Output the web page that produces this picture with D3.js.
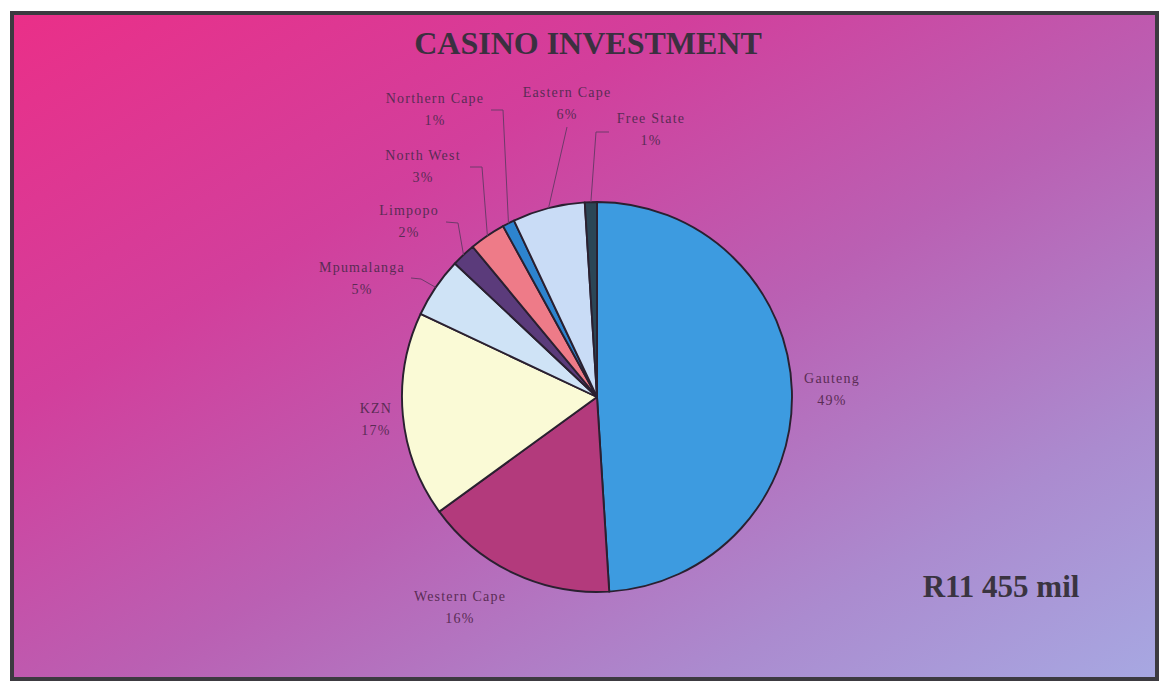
<!DOCTYPE html>
<html>
<head>
<meta charset="utf-8">
<script src="https://cdn.jsdelivr.net/npm/d3@7"></script>
<style>
  html, body { margin: 0; padding: 0; background: #ffffff; }
  svg { display: block; }
</style>
</head>
<body>
<svg id="chart" width="1162" height="683"></svg>
<script>
// Provincial shares of casino investment (percent), clockwise from 12 o'clock
const provinces = ["Gauteng", "Western Cape", "KZN", "Mpumalanga", "Limpopo",
                   "North West", "Northern Cape", "Eastern Cape", "Free State"];
const shares = [49, 16, 17, 5, 2, 3, 1, 6, 1];
const sliceColors = ["#3d9be0", "#b33a7c", "#fafad6", "#cfe3f6", "#5b3b7b",
                     "#ee7b88", "#2d84cf", "#c9dcf6", "#2b4656"];
const titleText = "CASINO INVESTMENT";
const totalText = "R11 455 mil";

// Label placement (first-line baseline, centre x) and leader routing per province
const labelLayout = {
  "Gauteng":       { x: 832, y: 383 },
  "Western Cape":  { x: 460, y: 601 },
  "KZN":           { x: 376, y: 413 },
  "Mpumalanga":    { x: 362, y: 272, from: [411, 278], elbow: [421, 279] },
  "Limpopo":       { x: 409, y: 215, from: [446, 222], elbow: [458, 223] },
  "North West":    { x: 423, y: 160, from: [470, 167], elbow: [482, 167] },
  "Northern Cape": { x: 435, y: 103, from: [491, 110], elbow: [503, 110] },
  "Eastern Cape":  { x: 567, y: 97,  from: [567, 127] },
  "Free State":    { x: 651, y: 123, from: [609, 132], elbow: [596, 132] }
};

const W = 1162, H = 683;
const svg = d3.select("#chart");
const defs = svg.append("defs");

const bg = defs.append("linearGradient")
  .attr("id", "bgGrad")
  .attr("x1", 0).attr("y1", 0).attr("x2", 1).attr("y2", 1);
[[0, "#ea2f88"], [0.3, "#d23f9c"], [0.55, "#ba60b3"], [0.8, "#ab8bcf"], [1, "#a7a8e2"]]
  .forEach(([o, c]) => bg.append("stop").attr("offset", o).attr("stop-color", c));

// Framed panel
svg.append("rect")
  .attr("x", 12).attr("y", 13).attr("width", 1145).attr("height", 666)
  .attr("fill", "url(#bgGrad)")
  .attr("stroke", "#3c3a40").attr("stroke-width", 4);

// Title
svg.append("text")
  .attr("x", 588).attr("y", 54)
  .attr("text-anchor", "middle")
  .attr("font-family", "'Liberation Serif', 'Times New Roman', serif")
  .attr("font-weight", "bold")
  .attr("font-size", 32)
  .attr("fill", "#3b3040")
  .text(titleText);

// Pie
const cx = 597, cy = 397, R = 195;
const data = provinces.map((p, i) => ({ name: p, value: shares[i], color: sliceColors[i] }));
const pie = d3.pie().sort(null).value(d => d.value).startAngle(0).endAngle(2 * Math.PI);
const arcs = pie(data);
const arc = d3.arc().innerRadius(0).outerRadius(R);
const edge = d3.arc().innerRadius(R).outerRadius(R);

const g = svg.append("g").attr("transform", `translate(${cx},${cy})`);
g.selectAll("path.slice")
  .data(arcs)
  .join("path")
  .attr("class", "slice")
  .attr("d", arc)
  .attr("fill", d => d.data.color)
  .attr("stroke", "#2a2030")
  .attr("stroke-width", 1.9)
  .attr("stroke-linejoin", "round");

// Leader lines from labels to the slice rim
const line = d3.line();
arcs.forEach(a => {
  const L = labelLayout[a.data.name];
  if (!L.from) return;
  const [ex, ey] = edge.centroid(a);
  const pts = [L.from];
  if (L.elbow) pts.push(L.elbow);
  pts.push([cx + ex, cy + ey]);
  svg.append("path")
    .attr("d", line(pts))
    .attr("fill", "none")
    .attr("stroke", "#6e3a6a")
    .attr("stroke-width", 1);
});

// Category labels with percentages
const labels = svg.append("g")
  .attr("font-family", "'Liberation Serif', 'Times New Roman', serif")
  .attr("font-size", 14)
  .attr("letter-spacing", 1.2)
  .attr("fill", "#5a2c55")
  .attr("text-anchor", "middle");
arcs.forEach(a => {
  const L = labelLayout[a.data.name];
  const t = labels.append("text").attr("x", L.x).attr("y", L.y);
  t.append("tspan").attr("x", L.x).text(a.data.name);
  t.append("tspan").attr("x", L.x).attr("dy", 22).text(a.data.value + "%");
});

// Total investment figure
svg.append("text")
  .attr("x", 1001).attr("y", 597)
  .attr("text-anchor", "middle")
  .attr("font-family", "'Liberation Serif', 'Times New Roman', serif")
  .attr("font-weight", "bold")
  .attr("font-size", 31)
  .attr("fill", "#3a3440")
  .text(totalText);
</script>
</body>
</html>
